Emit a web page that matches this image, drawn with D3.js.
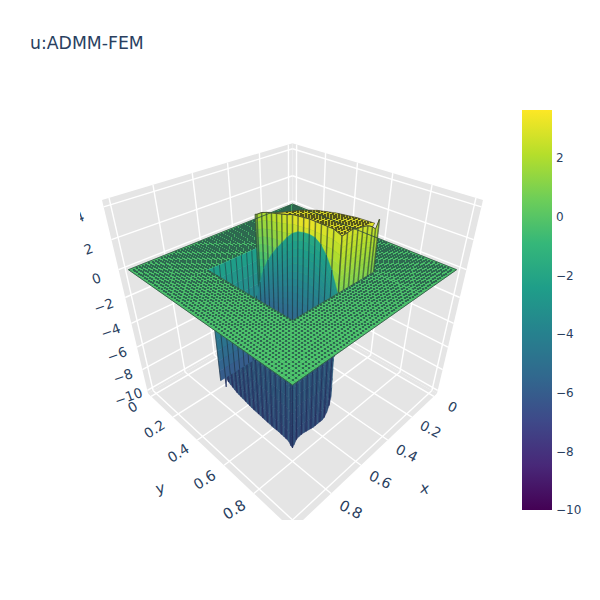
<!DOCTYPE html>
<html><head><meta charset="utf-8">
<script src="https://cdn.jsdelivr.net/npm/d3@7"></script>
<style>html,body{margin:0;background:#fff}svg{display:block}text{font-family:"DejaVu Sans",sans-serif;fill:#2a3f5f}</style>
</head><body><svg id="c" width="600" height="600"></svg>
<script>
// ---------- data ----------
const chartTitle = "u:ADMM-FEM";
const xTicks = [0, 0.2, 0.4, 0.6, 0.8, 1];
const yTicks = [0, 0.2, 0.4, 0.6, 0.8, 1];
const zTicks = [-10, -8, -6, -4, -2, 0, 2, 4];
const colorbarTicks = [-10, -8, -6, -4, -2, 0, 2];
const viridis = ["#440154","#482878","#3e4989","#31688e","#26828e","#1f9e89","#35b779","#6ece58","#b5de2b","#fde725"];
const xRange = [-0.03, 1.03], yRange = [-0.03, 1.03], zRange = [-10.3, 4.4], colorRange = [-10, 3.64];
const holeXLo = 0.27, holeYLo = 0.245, holeHi = 0.76;
const bandY = [0.25,0.28125,0.3125,0.34375,0.375,0.40625,0.4375,0.46875,0.5,0.53125,0.5625,0.59375,0.625,0.65625,0.6875,0.71875,0.76];
// step wall along x = 0.5
const stepY = [0.27,0.28125,0.3125,0.34375,0.375,0.40625,0.4375,0.46875,0.5,0.53125,0.5625,0.59375,0.625,0.65625,0.6875,0.71875,0.76];
const stepTop = [2.55,2.6,2.85,3.0,3.1,3.2,3.3,3.4,3.55,3.6,3.65,3.7,3.7,3.7,3.7,3.7,3.5];
const stepTopColor = [2.0,2.0,2.1,2.2,2.3,2.5,2.7,2.9,3.1,3.3,3.4,3.4,3.3,3.1,3.0,2.9,2.7];
const stepLowColor = [-4.2,-4,-3.8,-3.6,-3.4,-3.2,-3.0,-2.9,-2.7,-2.5,-2.4,-2.2,-2.1,-1.9,-1.8,-1.6,-1.5];
// positive wall along y = 0.76
const edgeX = [0.5,0.46875,0.4375,0.40625,0.375,0.34375,0.3125,0.29,0.27];
const edgeTop = [3.5,3.55,3.6,3.5,3.45,3.35,3.15,2.9,3.4];
const edgeTopColor = [2.8,2.8,2.8,2.7,2.7,2.6,2.5,2.4,2.4];
// plateau far edge
const plateauBackX = [0.5,0.43,0.383,0.346,0.321,0.30];
const plateauBackY = [0.40,0.475,0.523,0.60,0.689,0.76];
const plateauBackZ = [3.2,3.4,3.4,3.4,3.4,3.3];
// arch seen in the opening
const archTop = [-3.5,-2.2,-1.0,-0.2,0.45,1.0,1.5,2.0,2.4,2.65,2.75,2.8,2.75,2.5,2.0,1.25,-0.18];
const archTopColor = [-3.6,-3.4,-3.2,-3.0,-2.8,-2.6,-2.4,-2.2,-2.0,-1.8,-1.7,-1.7,-1.8,-2.0,-2.2,-2.5,-3.0];
// far wall of the opening
const wedgeX = [0.76,0.72875,0.6975,0.66625,0.635,0.60375,0.5725,0.54125,0.51,0.47,0.43];
// negative lobe below the plate
const lobeY = [0.2875,0.3,0.3125,0.328,0.34375,0.359,0.375,0.39,0.40625,0.42,0.4375,0.453,0.46875,0.484,0.5,0.516,0.53125,0.547,0.5625,0.578,0.59375,0.61,0.625,0.64,0.65625,0.672,0.6875,0.703,0.71875,0.735,0.75,0.76];
const lobeYBottom = [-9.2,-8.3,-8.5,-8.6,-8.7,-8.8,-8.9,-8.95,-9.0,-9.05,-9.1,-9.15,-9.2,-9.25,-9.3,-9.3,-9.35,-9.35,-9.4,-9.4,-9.45,-9.45,-9.5,-9.5,-9.5,-9.5,-9.55,-9.55,-9.6,-9.65,-9.9,-10];
const lobeX = [0.76,0.75,0.735,0.719,0.703,0.6875,0.672,0.656,0.64,0.625,0.61,0.594,0.578,0.5625,0.547,0.531,0.516,0.505];
const lobeXBottom = [-10,-9.8,-9.5,-9.4,-9.4,-9.4,-9.45,-9.5,-9.55,-9.6,-9.6,-9.6,-9.6,-9.6,-9.5,-9.2,-8.7,-8.0];

// ---------- projection ----------
const sx = d3.scaleLinear().domain(xRange).range([-1,1]);
const sy = d3.scaleLinear().domain(yRange).range([-1,1]);
const sz = d3.scaleLinear().domain(zRange).range([-1,1]);
const F = 488, D = 4.2, CX = 292.5, CY = 310;
function P(x,y,z){
  const X=sx(x),Y=sy(y),Z=sz(z);
  const u=(Y-X)/Math.SQRT2, v=(-X-Y+2*Z)/Math.sqrt(6), d=D-(X+Y+Z)/Math.sqrt(3);
  return [CX+F*u/d, CY-F*v/d];
}
const depth=(x,y,z)=>D-(sx(x)+sy(y)+sz(z))/Math.sqrt(3);
const colorAt = d3.scaleLinear().domain(d3.range(viridis.length).map(i=>colorRange[0]+i*(colorRange[1]-colorRange[0])/(viridis.length-1))).range(viridis).clamp(true);
const line = d3.line();
const svg = d3.select("#c");
const defs = svg.append("defs");
defs.append("clipPath").attr("id","scene").append("rect").attr("x",80).attr("y",100).attr("width",425).attr("height",420);
svg.append("text").attr("x",30).attr("y",49).attr("font-size",17.3).text(chartTitle);
const g = svg.append("g").attr("clip-path","url(#scene)");

// ---------- box ----------
const [x0,x1]=xRange,[y0,y1]=yRange,[z0,z1]=zRange;
const walls=[[[x0,y0,z0],[x1,y0,z0],[x1,y1,z0],[x0,y1,z0]],[[x0,y0,z0],[x1,y0,z0],[x1,y0,z1],[x0,y0,z1]],[[x0,y0,z0],[x0,y1,z0],[x0,y1,z1],[x0,y0,z1]]];
g.selectAll("path.w").data(walls).join("path").attr("class","w").attr("fill","#e5e5e5").attr("d",d=>line(d.map(p=>P(...p)))+"Z");
const gridSegs=[];
xTicks.forEach(t=>{gridSegs.push([[t,y0,z0],[t,y1,z0]],[[t,y0,z0],[t,y0,z1]]);});
yTicks.forEach(t=>{gridSegs.push([[x0,t,z0],[x1,t,z0]],[[x0,t,z0],[x0,t,z1]]);});
zTicks.forEach(t=>{gridSegs.push([[x1,y0,t],[x0,y0,t]],[[x0,y0,t],[x0,y1,t]]);});
g.selectAll("path.g").data(gridSegs).join("path").attr("class","g").attr("fill","none").attr("stroke","#fff").attr("stroke-width",1.4).attr("d",d=>line(d.map(p=>P(...p))));

// ---------- helpers ----------
function sheet(pts, opts){
  const rows=opts.rows||10, quads=[];
  const paint=c=>opts.shade?d3.color(colorAt(c)).darker(opts.shade).formatHex():colorAt(c);
  for(let i=0;i<pts.length-1;i++)for(let r=0;r<rows;r++){
    const a=pts[i],b=pts[i+1],f0=r/rows,f1=(r+1)/rows;
    const at=(p,f)=>P(p.x,p.y,p.top+(p.bot-p.top)*f);
    const c=(a.ct+(a.cb-a.ct)*(f0+f1)/2+b.ct+(b.cb-b.ct)*(f0+f1)/2)/2;
    quads.push({d:line([at(a,f0),at(b,f0),at(b,f1),at(a,f1)])+"Z",c});
  }
  const lay=g.append("g");
  lay.selectAll("path").data(quads).join("path").attr("d",d=>d.d).attr("fill",d=>paint(d.c)).attr("stroke",d=>paint(d.c)).attr("stroke-width",0.5);
  lay.selectAll("line").data(pts).join("line")
    .attr("x1",p=>P(p.x,p.y,p.top)[0]).attr("y1",p=>P(p.x,p.y,p.top)[1])
    .attr("x2",p=>P(p.x,p.y,p.bot)[0]).attr("y2",p=>P(p.x,p.y,p.bot)[1])
    .attr("stroke",(p,i)=>opts.stripe[i%opts.stripe.length]).attr("stroke-width",opts.sw||1.2);
  if(opts.rim) lay.append("path").attr("fill","none").attr("stroke",opts.rim).attr("stroke-width",0.9).attr("d",line(pts.map(p=>P(p.x,p.y,p.top))));
}
const mesh=d3.range(0,65).map(i=>i/64);
function plate(xa,xb,ya,yb,z,color,lc,lw,dotColor,clip){
  const lay=g.append("g"); if(clip)lay.attr("clip-path",clip);
  if(color)lay.append("path").attr("fill",color).attr("stroke",color).attr("stroke-width",0.5).attr("d",line([[xa,ya],[xb,ya],[xb,yb],[xa,yb]].map(p=>P(p[0],p[1],z)))+"Z");
  let d="",dots="";
  const xs=mesh.filter(t=>t>xa&&t<xb), ys=mesh.filter(t=>t>ya&&t<yb);
  xs.forEach(t=>{d+=line([P(t,ya,z),P(t,yb,z)]);});
  ys.forEach(t=>{d+=line([P(xa,t,z),P(xb,t,z)]);});
  lay.append("path").attr("fill","none").attr("stroke",lc).attr("stroke-width",lw).attr("d",d);
  xs.forEach(a=>ys.forEach(b=>{const p=P(a,b,z);dots+=`M${p[0]-1},${p[1]-1}h2v2h-2Z`;}));
  lay.append("path").attr("fill",dotColor).attr("shape-rendering","crispEdges").attr("d",dots);
}

// ---------- surface, far to near ----------
const darkStripe=["rgba(25,40,50,.55)"];
const lobeStripe=["rgba(20,24,70,.55)","rgba(30,125,130,.22)"];
sheet(lobeY.map((y,i)=>({x:holeHi,y,top:0,bot:lobeYBottom[i],ct:-5.0,cb:-6.5})),{stripe:lobeStripe,sw:1,shade:0.5});
sheet(lobeX.map((x,i)=>({x,y:holeHi,top:0,bot:lobeXBottom[i],ct:-5.0,cb:-6.5})),{stripe:lobeStripe,sw:1,shade:0.5});

const plateGreen="#4fc76d", meshLine="rgba(35,85,75,.4)", meshDot="rgba(35,75,70,.7)";
plate(0,holeXLo,0,1,0,plateGreen,meshLine,0.6,meshDot);
plate(holeXLo,1,0,holeYLo,0,plateGreen,meshLine,0.6,meshDot);

sheet(wedgeX.map(x=>({x,y:holeYLo,top:0,bot:-9,ct:-2.2,cb:-6.2})),{stripe:darkStripe,sw:1});

// plateau
const rim=[...stepY.map((y,i)=>[0.5,y,stepTop[i]]).filter(p=>p[1]>=0.4),...edgeX.map((x,i)=>[x,holeHi,edgeTop[i]]).filter(p=>p[0]>=0.3&&p[0]<0.5)];
const back=plateauBackX.map((x,i)=>[x,plateauBackY[i],plateauBackZ[i]]);
const plateauPoly=line([...rim.map(p=>P(...p)),...back.slice().reverse().map(p=>P(...p))])+"Z";
defs.append("clipPath").attr("id","plat").append("path").attr("d",plateauPoly);
g.append("path").attr("d",plateauPoly).attr("fill",colorAt(3.1)).attr("stroke","#4a4a30").attr("stroke-width",0.7);
plate(0.25,0.5,0.28,0.76,3.4,null,"rgba(50,50,30,.5)",0.5,"rgba(50,50,25,.75)","url(#plat)");

sheet(stepY.map((y,i)=>({x:0.5,y,top:stepTop[i],bot:-4.6,ct:stepTopColor[i],cb:stepLowColor[i]})),{stripe:darkStripe,rim:"#3a4030",rows:14,sw:1.5});
sheet(edgeX.map((x,i)=>({x,y:holeHi,top:edgeTop[i],bot:0,ct:edgeTopColor[i],cb:0.9})),{stripe:darkStripe,rim:"#3a4030",sw:1.5});
sheet(bandY.map((y,i)=>({x:0.5,y,top:archTop[i],bot:-4.6,ct:archTopColor[i],cb:-6})),{stripe:darkStripe,rows:14,sw:1.1});

plate(holeHi,1,holeYLo,1,0,plateGreen,meshLine,0.6,meshDot);
plate(holeXLo,holeHi,holeHi,1,0,plateGreen,meshLine,0.6,meshDot);
// plate outline and near edges of the opening
const outline=[[0,0],[1,0],[1,1],[0,1]];
g.append("path").attr("fill","none").attr("stroke","#2d4a40").attr("stroke-width",0.8).attr("d",line(outline.map(p=>P(p[0],p[1],0)))+"Z");
const nearEdge=[[holeHi,holeYLo],[holeHi,holeHi],[holeXLo,holeHi]];
g.append("path").attr("fill","none").attr("stroke","#2d4a40").attr("stroke-width",0.7).attr("d",line(nearEdge.map(p=>P(p[0],p[1],0))));

// ---------- axis labels ----------
const tf=(p,r)=>`translate(${p[0]},${p[1]}) rotate(${r})`;
const tickFmt=v=>String(v).replace("-","\u2212");
const fs=d=>14.9*Math.sqrt(3.76/d);
const labelLayer=g.append("g").attr("text-anchor","middle");
labelLayer.selectAll("text.x").data(xTicks).join("text").attr("class","x").attr("dominant-baseline","central").attr("font-size",t=>fs(depth(t,1.136,z0))).attr("transform",t=>tf(P(t,1.136,z0),27)).text(tickFmt);
labelLayer.selectAll("text.y").data(yTicks).join("text").attr("class","y").attr("dominant-baseline","central").attr("font-size",t=>fs(depth(1.136,t,z0))).attr("transform",t=>tf(P(1.136,t,z0),-32)).text(tickFmt);
labelLayer.selectAll("text.z").data(zTicks).join("text").attr("class","z").attr("dominant-baseline","central").attr("font-size",13.5).attr("transform",t=>tf(P(1.105,-0.105,t-0.6),-20)).text(tickFmt);
labelLayer.append("text").attr("dominant-baseline","central").attr("font-size",15).attr("transform",tf(P(0.5,1.295,z0),10)).text("x");
labelLayer.append("text").attr("dominant-baseline","central").attr("font-size",15).attr("transform",tf(P(1.295,0.5,z0),-15)).text("y");

// ---------- colorbar ----------
const cbY=d3.scaleLinear().domain(colorRange).range([510,110]);
const grad=defs.append("linearGradient").attr("id","cb").attr("x1",0).attr("y1",1).attr("x2",0).attr("y2",0);
viridis.forEach((c,i)=>grad.append("stop").attr("offset",i/(viridis.length-1)).attr("stop-color",c));
svg.append("rect").attr("x",522).attr("y",110).attr("width",30).attr("height",400).attr("fill","url(#cb)");
svg.append("g").attr("font-size",12).selectAll("text").data(colorbarTicks).join("text").attr("x",556).attr("y",t=>cbY(t)+4.2).text(tickFmt);
</script></body></html>
